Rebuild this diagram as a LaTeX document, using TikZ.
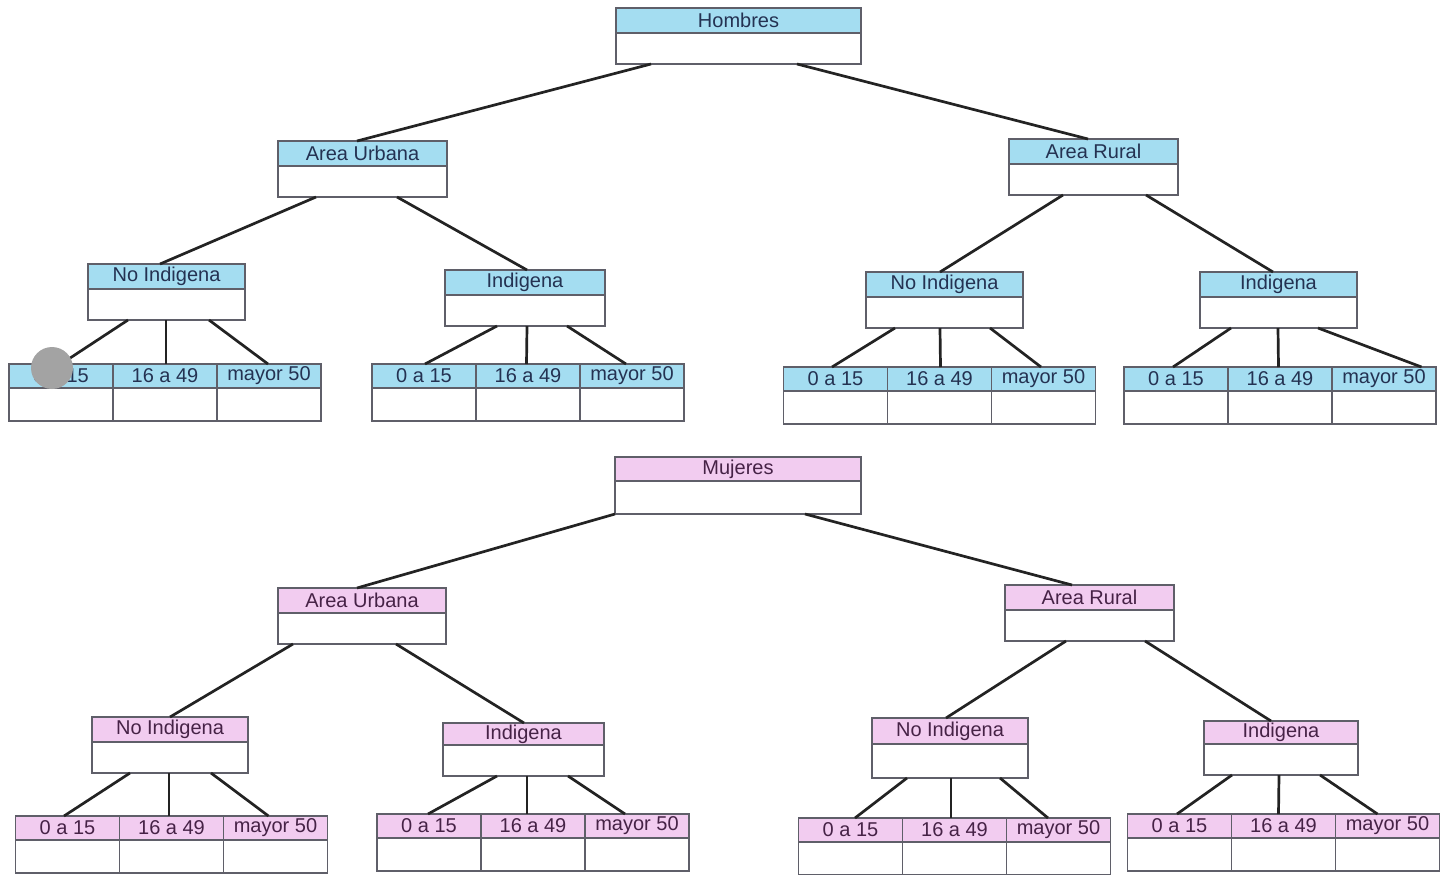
\documentclass[tikz,border=0pt]{standalone}
\usepackage{fontspec}
\setmainfont{Liberation Sans}
\usepackage{xcolor}
\usepackage{tikz}
\usetikzlibrary{positioning,calc}

\definecolor{hblue}{RGB}{164,221,241}
\definecolor{mpink}{RGB}{242,204,240}
\definecolor{hnavy}{RGB}{36,50,82}
\definecolor{mplum}{RGB}{70,34,70}
\definecolor{rim}{RGB}{95,95,105}
\definecolor{wire}{RGB}{35,35,35}

\tikzset{
  box/.style={draw=rim, line width=0.6pt, inner sep=0pt, outer sep=0pt, font=\fontsize{10}{12}\selectfont},
  hdrH/.style={box, fill=hblue, text=hnavy, minimum height=12.5pt, anchor=north},
  hdrM/.style={box, fill=mpink, text=mplum, minimum height=12.5pt, anchor=north},
  body/.style={box, fill=white, minimum height=15.5pt},
  leafH/.style={hdrH, minimum width=52pt, minimum height=12pt},
  leafM/.style={hdrM, minimum width=52pt, minimum height=12pt},
  leafbody/.style={body, minimum width=52pt, minimum height=16.5pt},
  link/.style={draw=wire, line width=1.35pt}
}

\begin{document}
\begin{tikzpicture}[x=0.5pt,y=0.5pt,yscale=-1,xscale=1]
\useasboundingbox (0,0) rectangle (1440,874);

% Hombres
\node [hdrH, minimum width=122.5pt] (h) at (738.5,8) {Hombres};
\node [body, minimum width=122.5pt, below=0pt of h] (hB) {};

\node [hdrH, minimum width=84.5pt] (au1) at (362.5,141) {Area Urbana};
\node [body, minimum width=84.5pt, below=0pt of au1] (au1B) {};
\node [hdrH, minimum width=84.5pt] (ar1) at (1093.5,139) {Area Rural};
\node [body, minimum width=84.5pt, below=0pt of ar1] (ar1B) {};

\node [hdrH, minimum width=78.5pt] (ni1) at (166.5,264) {No Indigena};
\node [body, minimum width=78.5pt, below=0pt of ni1] (ni1B) {};
\node [hdrH, minimum width=80pt] (in1) at (525,270) {Indigena};
\node [body, minimum width=80pt, below=0pt of in1] (in1B) {};
\node [hdrH, minimum width=78.5pt] (ni2) at (944.5,272) {No Indigena};
\node [body, minimum width=78.5pt, below=0pt of ni2] (ni2B) {};
\node [hdrH, minimum width=78.5pt] (in2) at (1278.5,272) {Indigena};
\node [body, minimum width=78.5pt, below=0pt of in2] (in2B) {};

\node [leafH] (l1a) at (61,364) {0 a 15};
\node [leafH, right=0pt of l1a] (l1b) {16 a 49};
\node [leafH, right=0pt of l1b] (l1c) {mayor 50};
\node [leafbody, below=0pt of l1a] (l1aB) {};
\node [leafbody, below=0pt of l1b] (l1bB) {};
\node [leafbody, below=0pt of l1c] (l1cB) {};

\node [leafH] (l2a) at (424,364) {0 a 15};
\node [leafH, right=0pt of l2a] (l2b) {16 a 49};
\node [leafH, right=0pt of l2b] (l2c) {mayor 50};
\node [leafbody, below=0pt of l2a] (l2aB) {};
\node [leafbody, below=0pt of l2b] (l2bB) {};
\node [leafbody, below=0pt of l2c] (l2cB) {};

\node [leafH] (l3a) at (835.5,367) {0 a 15};
\node [leafH, right=0pt of l3a] (l3b) {16 a 49};
\node [leafH, right=0pt of l3b] (l3c) {mayor 50};
\node [leafbody, below=0pt of l3a] (l3aB) {};
\node [leafbody, below=0pt of l3b] (l3bB) {};
\node [leafbody, below=0pt of l3c] (l3cB) {};

\node [leafH] (l4a) at (1176,367) {0 a 15};
\node [leafH, right=0pt of l4a] (l4b) {16 a 49};
\node [leafH, right=0pt of l4b] (l4c) {mayor 50};
\node [leafbody, below=0pt of l4a] (l4aB) {};
\node [leafbody, below=0pt of l4b] (l4bB) {};
\node [leafbody, below=0pt of l4c] (l4cB) {};

\draw [link] ($(hB.south)+(-87.5,0)$) -- ($(au1.north)+(-5.5,0)$);
\draw [link] ($(hB.south)+(58.5,0)$) -- ($(ar1.north)+(-5.5,0)$);
\draw [link] ($(au1B.south)+(-46.5,0)$) -- ($(ni1.north)+(-6.5,0)$);
\draw [link] ($(au1B.south)+(34.5,0)$) -- ($(in1.north)+(2,0)$);
\draw [link] ($(ar1B.south)+(-30.5,0)$) -- ($(ni2.north)+(-4.5,0)$);
\draw [link] ($(ar1B.south)+(52.5,0)$) -- ($(in2.north)+(-5.5,0)$);

\draw [link] ($(ni1B.south)+(-38.5,0)$) -- (l1a.north);
\draw [link] ($(ni1B.south)+(-0.5,0)$) -- ($(l1b.north)+(1,0)$);
\draw [link] ($(ni1B.south)+(42.5,0)$) -- ($(l1c.north)+(-1,0)$);
\draw [link] ($(in1B.south)+(-28,0)$) -- ($(l2a.north)+(1,0)$);
\draw [link] ($(in1B.south)+(2,0)$) -- ($(l2b.north)+(-1.5,0)$);
\draw [link] ($(in1B.south)+(42,0)$) -- ($(l2c.north)+(-6,0)$);
\draw [link] ($(ni2B.south)+(-49.5,0)$) -- ($(l3a.north)+(-3.5,0)$);
\draw [link] ($(ni2B.south)+(-4.5,0)$) -- ($(l3b.north)+(1,0)$);
\draw [link] ($(ni2B.south)+(45.5,0)$) -- ($(l3c.north)+(-2.5,0)$);
\draw [link] ($(in2B.south)+(-47.5,0)$) -- ($(l4a.north)+(-3,0)$);
\draw [link] ($(in2B.south)+(-0.5,0)$) -- ($(l4b.north)+(-1.5,0)$);
\draw [link] ($(in2B.south)+(39.5,0)$) -- ($(l4c.north)+(37.5,0)$);

% grey blot on the first leaf
\fill [gray!72!white] (52,368) circle [radius=10.5pt];

% Mujeres
\node [hdrM, minimum width=123pt, minimum height=12pt] (m) at (738,457) {Mujeres};
\node [body, minimum width=123pt, minimum height=16.5pt, below=0pt of m] (mB) {};

\node [hdrM, minimum width=84pt] (au2) at (362,588) {Area Urbana};
\node [body, minimum width=84pt, below=0pt of au2] (au2B) {};
\node [hdrM, minimum width=84.5pt] (ar2) at (1089.5,585) {Area Rural};
\node [body, minimum width=84.5pt, below=0pt of ar2] (ar2B) {};

\node [hdrM, minimum width=78pt] (ni3) at (170,717) {No Indigena};
\node [body, minimum width=78pt, below=0pt of ni3] (ni3B) {};
\node [hdrM, minimum width=80.5pt, minimum height=11pt] (in3) at (523.5,723) {Indigena};
\node [body, minimum width=80.5pt, below=0pt of in3] (in3B) {};
\node [hdrM, minimum width=78pt, minimum height=13pt] (ni4) at (950,718) {No Indigena};
\node [body, minimum width=78pt, minimum height=17pt, below=0pt of ni4] (ni4B) {};
\node [hdrM, minimum width=77pt, minimum height=11.5pt] (in4) at (1281,721) {Indigena};
\node [body, minimum width=77pt, below=0pt of in4] (in4B) {};

\node [leafM] (l5a) at (67.5,816) {0 a 15};
\node [leafM, right=0pt of l5a] (l5b) {16 a 49};
\node [leafM, right=0pt of l5b] (l5c) {mayor 50};
\node [leafbody, below=0pt of l5a] (l5aB) {};
\node [leafbody, below=0pt of l5b] (l5bB) {};
\node [leafbody, below=0pt of l5c] (l5cB) {};

\node [leafM] (l6a) at (429,814) {0 a 15};
\node [leafM, right=0pt of l6a] (l6b) {16 a 49};
\node [leafM, right=0pt of l6b] (l6c) {mayor 50};
\node [leafbody, below=0pt of l6a] (l6aB) {};
\node [leafbody, below=0pt of l6b] (l6bB) {};
\node [leafbody, below=0pt of l6c] (l6cB) {};

\node [leafM] (l7a) at (850.5,818) {0 a 15};
\node [leafM, right=0pt of l7a] (l7b) {16 a 49};
\node [leafM, right=0pt of l7b] (l7c) {mayor 50};
\node [leafbody, below=0pt of l7a] (l7aB) {};
\node [leafbody, below=0pt of l7b] (l7bB) {};
\node [leafbody, below=0pt of l7c] (l7cB) {};

\node [leafM] (l8a) at (1179.5,814) {0 a 15};
\node [leafM, right=0pt of l8a] (l8b) {16 a 49};
\node [leafM, right=0pt of l8b] (l8c) {mayor 50};
\node [leafbody, below=0pt of l8a] (l8aB) {};
\node [leafbody, below=0pt of l8b] (l8bB) {};
\node [leafbody, below=0pt of l8c] (l8cB) {};

\draw [link] ($(mB.south)+(-123,0)$) -- ($(au2.north)+(-5,0)$);
\draw [link] ($(mB.south)+(67,0)$) -- ($(ar2.north)+(-17.5,0)$);
\draw [link] ($(au2B.south)+(-69,0)$) -- (ni3.north);
\draw [link] ($(au2B.south)+(34,0)$) -- ($(in3.north)+(0.5,0)$);
\draw [link] ($(ar2B.south)+(-23.5,0)$) -- ($(ni4.north)+(-4,0)$);
\draw [link] ($(ar2B.south)+(55.5,0)$) -- ($(in4.north)+(-10,0)$);

\draw [link] ($(ni3B.south)+(-40,0)$) -- ($(l5a.north)+(-3.5,0)$);
\draw [link] ($(ni3B.south)+(-1,0)$) -- ($(l5b.north)+(-2.5,0)$);
\draw [link] ($(ni3B.south)+(41,0)$) -- ($(l5c.north)+(-7,0)$);
\draw [link] ($(in3B.south)+(-26.5,0)$) -- ($(l6a.north)+(-1,0)$);
\draw [link] ($(in3B.south)+(3.5,0)$) -- ($(l6b.north)+(-6,0)$);
\draw [link] ($(in3B.south)+(44.5,0)$) -- ($(l6c.north)+(-12,0)$);
\draw [link] ($(ni4B.south)+(-43,0)$) -- ($(l7a.north)+(4.5,0)$);
\draw [link] ($(ni4B.south)+(1,0)$) -- ($(l7b.north)+(-3.5,0)$);
\draw [link] ($(ni4B.south)+(50,0)$) -- ($(l7c.north)+(-10.5,0)$);
\draw [link] ($(in4B.south)+(-49,0)$) -- ($(l8a.north)+(-2.5,0)$);
\draw [link] ($(in4B.south)+(-2,0)$) -- ($(l8b.north)+(-5,0)$);
\draw [link] ($(in4B.south)+(39,0)$) -- ($(l8c.north)+(-10,0)$);
\end{tikzpicture}
\end{document}
